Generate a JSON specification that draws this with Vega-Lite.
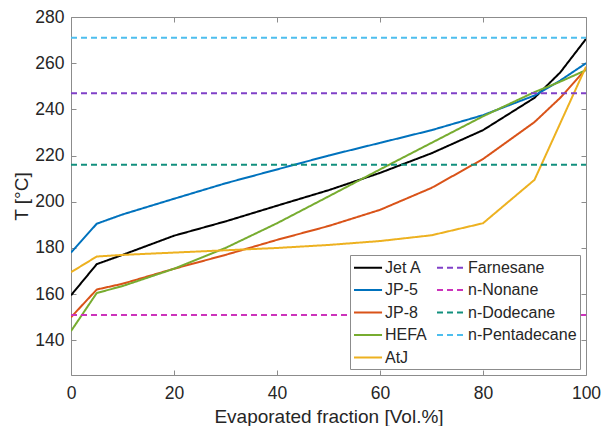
{
  "$schema": "https://vega.github.io/schema/vega-lite/v6.json",
  "width": 515,
  "height": 358,
  "autosize": "none",
  "padding": {"left": 71, "top": 17, "right": 17, "bottom": 51},
  "background": "white",
  "config": {
    "font": "Liberation Sans",
    "view": {"stroke": "#8c8c8c", "strokeWidth": 1},
    "axis": {"labelColor": "#262626", "titleColor": "#262626", "labelFont": "Liberation Sans", "titleFont": "Liberation Sans", "titleFontWeight": "normal", "tickColor": "#8c8c8c", "grid": false, "domain": false, "labelFlush": false}
  },
  "data": {"values": [
    {"series": "Jet A", "x": 0, "T": 159.5}, {"series": "Jet A", "x": 5, "T": 173}, {"series": "Jet A", "x": 10, "T": 177}, {"series": "Jet A", "x": 20, "T": 185.3}, {"series": "Jet A", "x": 30, "T": 191.5}, {"series": "Jet A", "x": 40, "T": 198.3}, {"series": "Jet A", "x": 50, "T": 205}, {"series": "Jet A", "x": 60, "T": 212.5}, {"series": "Jet A", "x": 70, "T": 221}, {"series": "Jet A", "x": 80, "T": 231}, {"series": "Jet A", "x": 90, "T": 245}, {"series": "Jet A", "x": 95, "T": 256}, {"series": "Jet A", "x": 100, "T": 270.5},
    {"series": "JP-5", "x": 0, "T": 178}, {"series": "JP-5", "x": 5, "T": 190.5}, {"series": "JP-5", "x": 10, "T": 194.5}, {"series": "JP-5", "x": 20, "T": 201.3}, {"series": "JP-5", "x": 30, "T": 208}, {"series": "JP-5", "x": 40, "T": 214}, {"series": "JP-5", "x": 50, "T": 220}, {"series": "JP-5", "x": 60, "T": 225.5}, {"series": "JP-5", "x": 70, "T": 231}, {"series": "JP-5", "x": 80, "T": 237.5}, {"series": "JP-5", "x": 90, "T": 246}, {"series": "JP-5", "x": 95, "T": 252.5}, {"series": "JP-5", "x": 100, "T": 260},
    {"series": "JP-8", "x": 0, "T": 150}, {"series": "JP-8", "x": 5, "T": 162}, {"series": "JP-8", "x": 10, "T": 164.5}, {"series": "JP-8", "x": 20, "T": 171}, {"series": "JP-8", "x": 30, "T": 177}, {"series": "JP-8", "x": 40, "T": 183.5}, {"series": "JP-8", "x": 50, "T": 189.5}, {"series": "JP-8", "x": 60, "T": 196.5}, {"series": "JP-8", "x": 70, "T": 206}, {"series": "JP-8", "x": 80, "T": 218.5}, {"series": "JP-8", "x": 90, "T": 234.5}, {"series": "JP-8", "x": 95, "T": 245}, {"series": "JP-8", "x": 100, "T": 257.5},
    {"series": "HEFA", "x": 0, "T": 144}, {"series": "HEFA", "x": 5, "T": 160.5}, {"series": "HEFA", "x": 10, "T": 163.5}, {"series": "HEFA", "x": 20, "T": 171}, {"series": "HEFA", "x": 30, "T": 180}, {"series": "HEFA", "x": 40, "T": 190.7}, {"series": "HEFA", "x": 50, "T": 202.3}, {"series": "HEFA", "x": 60, "T": 214}, {"series": "HEFA", "x": 70, "T": 225.5}, {"series": "HEFA", "x": 80, "T": 237}, {"series": "HEFA", "x": 90, "T": 247.5}, {"series": "HEFA", "x": 95, "T": 252}, {"series": "HEFA", "x": 100, "T": 257},
    {"series": "AtJ", "x": 0, "T": 169.5}, {"series": "AtJ", "x": 5, "T": 176.3}, {"series": "AtJ", "x": 10, "T": 177}, {"series": "AtJ", "x": 20, "T": 178}, {"series": "AtJ", "x": 30, "T": 179}, {"series": "AtJ", "x": 40, "T": 180}, {"series": "AtJ", "x": 50, "T": 181.3}, {"series": "AtJ", "x": 60, "T": 183}, {"series": "AtJ", "x": 70, "T": 185.5}, {"series": "AtJ", "x": 80, "T": 190.7}, {"series": "AtJ", "x": 90, "T": 209.5}, {"series": "AtJ", "x": 100, "T": 258.5},
    {"series": "Farnesane", "x": 0, "T": 247}, {"series": "Farnesane", "x": 100, "T": 247},
    {"series": "n-Nonane", "x": 0, "T": 151}, {"series": "n-Nonane", "x": 100, "T": 151},
    {"series": "n-Dodecane", "x": 0, "T": 216}, {"series": "n-Dodecane", "x": 100, "T": 216},
    {"series": "n-Pentadecane", "x": 0, "T": 271}, {"series": "n-Pentadecane", "x": 100, "T": 271}
  ]},
  "resolve": {"axis": {"x": "independent", "y": "independent"}},
  "layer": [
    {
      "mark": {"type": "line", "strokeWidth": 2, "clip": true},
      "encoding": {
        "x": {"field": "x", "type": "quantitative", "scale": {"domain": [0, 100], "nice": false, "zero": false},
          "axis": {"orient": "bottom", "values": [0, 20, 40, 60, 80, 100], "title": "Evaporated fraction [Vol.%]", "labelFontSize": 17.5, "titleFontSize": 19, "tickSize": -5, "labelPadding": 14, "titlePadding": 6}},
        "y": {"field": "T", "type": "quantitative", "scale": {"domain": [125, 280], "nice": false, "zero": false},
          "axis": {"orient": "left", "values": [140, 160, 180, 200, 220, 240, 260, 280], "title": "T [°C]", "labelFontSize": 17.5, "titleFontSize": 19, "tickSize": -5, "labelPadding": 12, "titlePadding": 3}},
        "color": {"field": "series", "type": "nominal",
          "scale": {"domain": ["Jet A", "JP-5", "JP-8", "HEFA", "AtJ", "Farnesane", "n-Nonane", "n-Dodecane", "n-Pentadecane"],
            "range": ["#000000", "#0072BD", "#D95319", "#77AC30", "#EDB120", "#8040C8", "#CC33BB", "#12907E", "#4DBEEE"]},
          "legend": {"title": null, "orient": "none", "legendX": 279, "legendY": 238, "columns": 2, "fillColor": "white", "strokeColor": "#8c8c8c", "padding": 3, "rowPadding": 4.5, "columnPadding": 6, "symbolType": "M-1,0H2.3", "symbolSize": 289, "symbolStrokeWidth": 2, "symbolFillColor": "transparent", "labelFontSize": 16, "labelColor": "#262626", "labelOffset": 13, "labelFont": "Liberation Sans", "labelLimit": 200}},
        "strokeDash": {"field": "series", "type": "nominal",
          "scale": {"domain": ["Jet A", "JP-5", "JP-8", "HEFA", "AtJ", "Farnesane", "n-Nonane", "n-Dodecane", "n-Pentadecane"],
            "range": [[1, 0], [1, 0], [1, 0], [1, 0], [1, 0], [6, 4], [6, 4], [6, 4], [6, 4]]},
          "legend": {"title": null}}
      }
    },
    {
      "mark": {"type": "line", "opacity": 0},
      "encoding": {
        "x": {"field": "x", "type": "quantitative", "axis": {"orient": "top", "values": [0, 20, 40, 60, 80, 100], "labels": false, "title": null, "tickSize": -5}},
        "y": {"field": "T", "type": "quantitative", "axis": {"orient": "right", "values": [140, 160, 180, 200, 220, 240, 260, 280], "labels": false, "title": null, "tickSize": -5}},
        "detail": {"field": "series"}
      }
    }
  ]
}
